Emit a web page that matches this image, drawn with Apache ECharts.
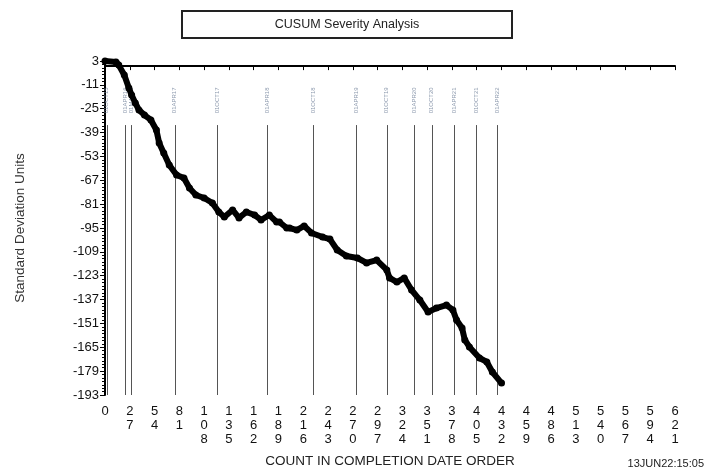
<!DOCTYPE html>
<html>
<head>
<meta charset="utf-8">
<script src="https://cdn.jsdelivr.net/npm/echarts@6/dist/echarts.min.js"></script>
<style>
  html, body { margin: 0; padding: 0; background: #fff; }
  #main { width: 717px; height: 470px; }
</style>
</head>
<body>
<div id="main"></div>
<script>
// cusum points: [count, standard deviation units]
var cusumCounts = [0, 12, 15, 21, 26, 29, 33, 37, 43, 50, 56, 59, 64, 70, 78, 86, 92, 99, 108, 117, 124, 130, 139, 146, 154, 163, 170, 179, 187, 190, 198, 201, 209, 217, 225, 237, 245, 253, 263, 275, 285, 296, 307, 310, 318, 326, 334, 343, 352, 361, 372, 379, 383, 389, 392, 397, 408, 416, 422, 432];
var cusumValues = [3, 2.4, 0.6, -5.2, -12.8, -17, -21.6, -25.8, -28.7, -31.6, -37.5, -45.1, -51, -58, -63.9, -65.7, -71.5, -75.6, -77.4, -80.3, -85.6, -88.5, -84.4, -89.1, -85.6, -87.4, -90.3, -87.4, -91.5, -91.5, -95, -95, -96.2, -93.8, -97.9, -100.3, -101.5, -107.9, -111.4, -112.6, -115.5, -113.8, -119.6, -124.3, -126.7, -124.3, -131.4, -137.3, -144.3, -142, -140.2, -143.1, -149, -153.7, -160.7, -164.8, -171.3, -173.6, -179.5, -186];

// vertical reference lines (count position + date label)
var markerCounts = [2, 22, 29, 76, 122, 177, 227, 274, 307, 337, 356, 381, 405, 427];
var markerLabels = ['01OCT15', '01APR16', '01MAY16', '01APR17', '01OCT17', '01APR18', '01OCT18', '01APR19', '01OCT19', '01APR20', '01OCT20', '01APR21', '01OCT21', '01APR22'];

var yTicks = [3, -11, -25, -39, -53, -67, -81, -95, -109, -123, -137, -151, -165, -179, -193];
var yMinorTicks = [];
for (var t = 3; t >= -193; t -= 2) yMinorTicks.push(t);

var yMin = -193, yMax = 3;
var markerTop = -34.6;
var markerLabelY = -23;

var chartDom = document.getElementById('main');
var myChart = echarts.init(chartDom);
var option;

var cusumData = cusumCounts.map(function (c, i) { return [c, cusumValues[i]]; });
var markLines = markerCounts.map(function (c) {
    return [{ coord: [c, markerTop] }, { coord: [c, yMin] }];
});
var markerLabelData = markerCounts.map(function (c, i) {
    return { name: markerLabels[i], value: [c, markerLabelY] };
});

option = {
    animation: false,
    backgroundColor: '#fff',
    textStyle: { fontFamily: 'Liberation Sans' },
    grid: { left: 105, right: 42, top: 61, bottom: 75 },
    xAxis: {
        type: 'value',
        min: 0,
        max: 621,
        interval: 27,
        splitLine: { show: false },
        axisLine: { lineStyle: { color: '#000', width: 2 } },
        axisTick: { length: 4, lineStyle: { color: '#000' } },
        axisLabel: {
            color: '#111',
            fontSize: 13,
            lineHeight: 14,
            margin: 9,
            formatter: function (v) { return String(v).split('').join('\n'); }
        }
    },
    yAxis: [
        {
            type: 'value',
            min: yMin,
            max: yMax,
            splitLine: { show: false },
            axisLine: { lineStyle: { color: '#000', width: 2 } },
            axisTick: { length: 5, customValues: yTicks, lineStyle: { color: '#000' } },
            axisLabel: { color: '#111', fontSize: 13, margin: 6, customValues: yTicks }
        },
        {
            type: 'value',
            position: 'left',
            min: yMin,
            max: yMax,
            splitLine: { show: false },
            axisLine: { show: false },
            axisTick: { length: 3, customValues: yMinorTicks, lineStyle: { color: '#000' } },
            axisLabel: { show: false }
        }
    ],
    series: [
        {
            type: 'line',
            data: cusumData,
            symbol: 'circle',
            symbolSize: 7,
            itemStyle: { color: '#000' },
            lineStyle: { color: '#000', width: 6 },
            z: 5,
            markLine: {
                silent: true,
                symbol: 'none',
                label: { show: false },
                lineStyle: { color: '#555', width: 1, type: 'solid' },
                data: markLines
            }
        },
        {
            type: 'scatter',
            data: markerLabelData,
            symbolSize: 0,
            silent: true,
            label: {
                show: true,
                position: 'inside',
                rotate: 90,
                offset: [5, 0],
                fontSize: 6,
                color: '#6f7f99',
                formatter: '{b}'
            }
        }
    ],
    graphic: [
        {
            type: 'rect',
            shape: { x: 182, y: 11, width: 330, height: 27 },
            style: { fill: '#fff', stroke: '#222', lineWidth: 2 }
        },
        {
            type: 'text',
            x: 347, y: 25,
            style: { text: 'CUSUM Severity Analysis', font: '12.5px "Liberation Sans"', fill: '#222', textAlign: 'center', textVerticalAlign: 'middle' }
        },
        {
            type: 'text',
            x: 20, y: 228,
            rotation: Math.PI / 2,
            style: { text: 'Standard Deviation Units', font: '13.5px "Liberation Sans"', fill: '#333', textAlign: 'center', textVerticalAlign: 'middle' }
        },
        {
            type: 'text',
            x: 390, y: 461,
            style: { text: 'COUNT IN COMPLETION DATE ORDER', font: '13.5px "Liberation Sans"', fill: '#222', textAlign: 'center', textVerticalAlign: 'middle' }
        },
        {
            type: 'text',
            x: 704, y: 464,
            style: { text: '13JUN22:15:05', font: '11px "Liberation Sans"', fill: '#222', textAlign: 'right', textVerticalAlign: 'middle' }
        }
    ]
};

option && myChart.setOption(option);
</script>
</body>
</html>
